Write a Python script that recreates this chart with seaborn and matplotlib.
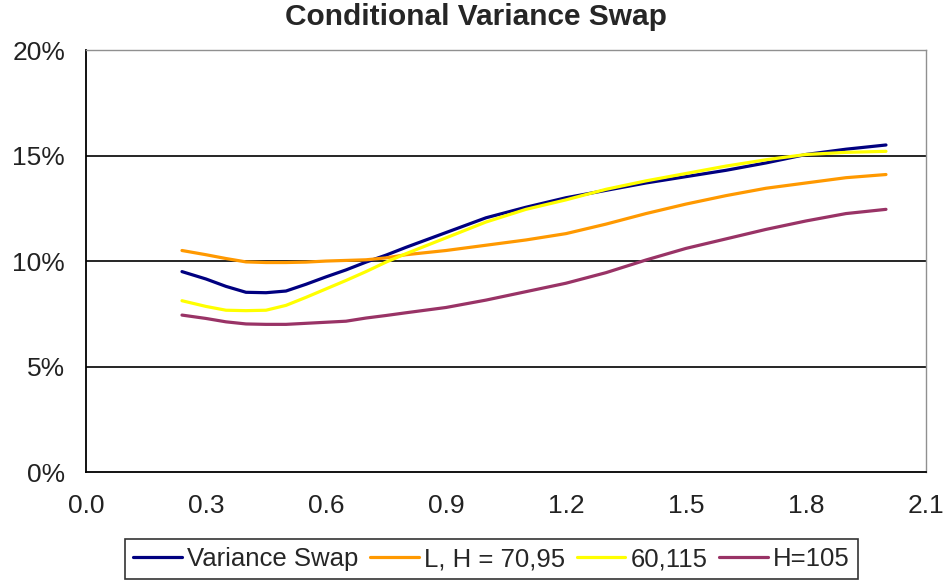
"""
Conditional Variance Swap - strike term structure by barrier
"""

import pandas as pd
import matplotlib.pyplot as plt
import seaborn as sns
from matplotlib.ticker import FuncFormatter, MultipleLocator

# maturities (years)
maturity = [0.24, 0.3, 0.35, 0.4, 0.45, 0.5, 0.55, 0.6, 0.65, 0.7, 0.75,
            0.8, 0.9, 1.0, 1.1, 1.2, 1.3, 1.4, 1.5, 1.6, 1.7, 1.8, 1.9, 2.0]

# strikes in %
variance_swap = [9.5, 9.15, 8.8, 8.52, 8.5, 8.58, 8.9, 9.25, 9.58, 9.95, 10.28,
                 10.65, 11.35, 12.05, 12.55, 13.0, 13.35, 13.7, 14.0, 14.3,
                 14.65, 15.05, 15.3, 15.5]
lh_70_95 = [10.5, 10.3, 10.12, 9.96, 9.93, 9.93, 9.95, 10.0, 10.03, 10.06, 10.15,
            10.3, 10.5, 10.75, 11.0, 11.3, 11.75, 12.25, 12.7, 13.1, 13.45,
            13.7, 13.95, 14.1]
lh_60_115 = [8.12, 7.85, 7.67, 7.65, 7.67, 7.9, 8.28, 8.68, 9.08, 9.5, 9.95,
             10.35, 11.1, 11.85, 12.45, 12.9, 13.4, 13.8, 14.15, 14.5, 14.8,
             15.05, 15.15, 15.2]
h_105 = [7.44, 7.28, 7.12, 7.02, 7.0, 7.0, 7.05, 7.1, 7.15, 7.3, 7.42,
         7.55, 7.8, 8.15, 8.55, 8.95, 9.45, 10.05, 10.6, 11.05, 11.5,
         11.9, 12.25, 12.45]

series_names = ["Variance Swap", "L, H = 70,95", "60,115", "H=105"]
colors = ["#000080", "#FF9900", "#FFFF00", "#993366"]

frames = []
for name, vals in zip(series_names, [variance_swap, lh_70_95, lh_60_115, h_105]):
    frames.append(pd.DataFrame({"maturity": maturity, "strike": vals, "series": name}))
df = pd.concat(frames, ignore_index=True)

sns.set_style("white")
plt.rcParams["font.family"] = ["Liberation Sans", "DejaVu Sans"]

fig = plt.figure(figsize=(9.47, 5.85), dpi=100)
ax = fig.add_axes([0.0908, 0.193, 0.887, 0.7215])

sns.lineplot(data=df, x="maturity", y="strike", hue="series",
             hue_order=series_names, palette=colors, linewidth=2.3,
             sort=False, ax=ax, legend=True)

ax.set_xlim(0, 2.1)
ax.set_ylim(0, 20)
ax.xaxis.set_major_locator(MultipleLocator(0.3))
ax.yaxis.set_major_locator(MultipleLocator(5))
ax.xaxis.set_major_formatter(FuncFormatter(lambda v, p: f"{v:.1f}"))
ax.yaxis.set_major_formatter(FuncFormatter(lambda v, p: f"{v:.0f}%"))

for y in [5, 10, 15]:
    ax.axhline(y, color="black", linewidth=1.2, zorder=0)

for side in ["left", "bottom"]:
    ax.spines[side].set_color("black")
    ax.spines[side].set_linewidth(1.3)
for side in ["top", "right"]:
    ax.spines[side].set_color("#909090")
    ax.spines[side].set_linewidth(1.0)

ax.tick_params(axis="both", direction="out", length=6, width=1.2,
               color="black", labelsize=19, labelcolor="#222222")
ax.tick_params(axis="y", pad=9)
ax.tick_params(axis="x", pad=10)
ax.set_xlabel("")
ax.set_ylabel("")

fig.text(0.503, 0.971, "Conditional Variance Swap", ha="center", va="center",
         fontsize=21.5, fontweight="bold")

handles, labels = ax.get_legend_handles_labels()
ax.legend_.remove()
leg = fig.legend(handles, labels, loc="center", bbox_to_anchor=(0.519, 0.0444),
                 ncol=4, frameon=True, fancybox=False, fontsize=18.5,
                 handlelength=1.9, handletextpad=0.2, columnspacing=0.45,
                 borderpad=0.3, borderaxespad=0)
leg.get_frame().set_edgecolor("black")
leg.get_frame().set_linewidth(1.2)

plt.savefig("out.png", dpi=100)
plt.close()
print("Saved: out.png")
